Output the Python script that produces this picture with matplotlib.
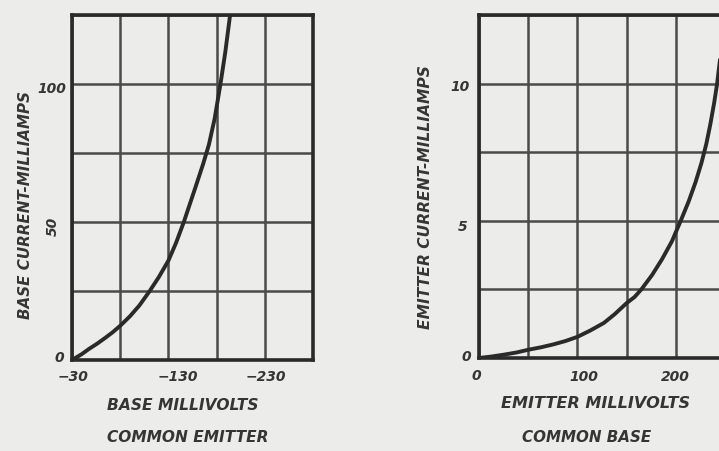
import matplotlib
matplotlib.use("Agg")
import matplotlib.pyplot as plt

# common emitter: base millivolts vs base current (mA)
ce_mv = [-30, -40, -48, -56, -64, -72, -80, -90, -100, -110.6, -120, -130,
         -138, -146, -158, -166, -172, -178, -184, -189, -194]
ce_ma = [0, 2.1, 4.1, 5.9, 7.9, 10.0, 12.4, 15.8, 19.8, 25, 30, 36,
         42.5, 50, 62.5, 71, 78, 87.5, 100, 111.5, 125]
ce_xgrid = [-30, -80, -130, -180, -230, -280]
ce_ygrid = [0, 25, 50, 75, 100, 125]

# common base: emitter millivolts vs emitter current (mA)
cb_mv = [0, 12, 25, 38, 50, 63, 76, 88, 100, 113, 127, 138, 150, 158, 165,
         176, 186, 196, 205, 213, 220, 226, 231, 235, 239, 242, 245, 248, 249.5]
cb_ma = [0, 0.05, 0.12, 0.2, 0.3, 0.39, 0.5, 0.62, 0.77, 1.0, 1.28, 1.6, 2.0,
         2.22, 2.5, 3.03, 3.6, 4.25, 5.0, 5.7, 6.4, 7.1, 7.8, 8.5, 9.3, 10,
         10.9, 12.0, 12.5]
cb_xgrid = [0, 50, 100, 150, 200, 250]
cb_ygrid = [0, 2.5, 5, 7.5, 10, 12.5]

# tick labels as lettered on the original: (x px, y px, text, rotation)
ce_ticks = [(73, 377, "\u221230", 0), (178, 377, "\u2212130", 0), (266, 377, "\u2212230", 0),
            (59, 358, "0", 0), (53, 226, "50", 90), (52, 89, "100", 0)]
cb_ticks = [(476, 376, "0", 0), (584, 377, "100", 0), (675, 377, "200", 0),
            (466, 357, "0", 0), (463, 227, "5", 0), (460, 87, "10", 0)]

W, H = 719, 451
BG = "#ececea"
INK = "#2a2a2a"
GRID = "#4a4a4a"
FONT = dict(family="DejaVu Sans", style="italic", weight="bold", color="#353535")

fig = plt.figure(figsize=(W / 100, H / 100), dpi=100, facecolor=BG)


def px(x, y):
    return x / W, 1 - y / H


def panel(rect, xs, ys, xgrid, ygrid, xlim):
    ax = fig.add_axes(rect, facecolor=BG)
    ax.set_xlim(*xlim)
    ax.set_ylim(ygrid[0], ygrid[-1])
    ax.set_xticks(xgrid)
    ax.set_yticks(ygrid)
    ax.set_xticklabels([])
    ax.set_yticklabels([])
    ax.tick_params(length=0)
    ax.grid(True, color=GRID, lw=1.8)
    for s in ax.spines.values():
        s.set_color(INK)
        s.set_linewidth(2.6)
    ax.plot(xs, ys, color=INK, lw=2.8, solid_capstyle="round", solid_joinstyle="round")
    return ax


l0, b0 = px(72, 360)
panel([l0, b0, 241 / W, 345 / H], ce_mv, ce_ma, ce_xgrid, ce_ygrid, (-30, -280))
l1, b1 = px(479, 358)
panel([l1, b1, 246 / W, 343 / H], cb_mv, cb_ma, cb_xgrid, cb_ygrid, (0, 250))

for x, y, lab, rot in ce_ticks + cb_ticks:
    fig.text(*px(x, y), lab, ha="center", va="center", fontsize=10, rotation=rot, **FONT)

fig.text(*px(26, 205), "BASE CURRENT-MILLIAMPS", rotation=90, ha="center", va="center",
         fontsize=10.9, **FONT)
fig.text(*px(183, 406), "BASE MILLIVOLTS", ha="center", va="center", fontsize=11.2, **FONT)
fig.text(*px(188, 438), "COMMON EMITTER", ha="center", va="center", fontsize=11.1, **FONT)

fig.text(*px(426, 197), "EMITTER CURRENT-MILLIAMPS", rotation=90, ha="center", va="center",
         fontsize=11.2, **FONT)
fig.text(*px(596, 404), "EMITTER MILLIVOLTS", ha="center", va="center", fontsize=11.6, **FONT)
fig.text(*px(587, 438), "COMMON BASE", ha="center", va="center", fontsize=10.9, **FONT)

fig.savefig("out.png", dpi=100, facecolor=BG)
